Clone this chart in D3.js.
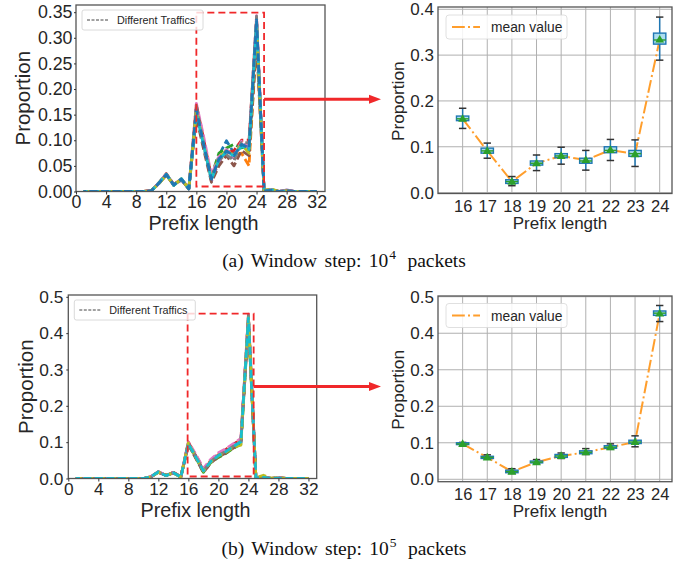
<!DOCTYPE html>
<html>
<head>
<meta charset="utf-8">
<script src="https://cdn.jsdelivr.net/npm/d3@7"></script>
<style>
body { margin: 0; background: #fff; }
svg { display: block; }
</style>
</head>
<body>
<svg id="fig"></svg>
<script>
// ---- data ----
let prefixLengths = [1,2,3,4,5,6,7,8,9,10,11,12,13,14,15,16,17,18,19,20,21,22,23,24,25,26,27,28,29,30,31,32];
let boxPrefixes = [16,17,18,19,20,21,22,23,24];

// (a) window step 1e4 : proportion per prefix length, one array per traffic trace
let trafficA0 = [0,0,0,0,0,0,0,0,0,0.001,0.016,0.034,0.013,0.024,0.006,0.155,0.088,0.022,0.070,0.099,0.075,0.090,0.080,0.330,0.001,0.002,0,0.001,0,0,0,0];
let trafficA1 = [0,0,0,0,0,0,0,0,0,0.002,0.015,0.032,0.014,0.023,0.005,0.165,0.095,0.026,0.060,0.080,0.072,0.075,0.050,0.300,0.002,0.004,0,0.001,0,0,0,0];
let trafficA2 = [0,0,0,0,0,0,0,0,0,0.001,0.017,0.033,0.012,0.025,0.006,0.150,0.085,0.030,0.075,0.085,0.092,0.085,0.090,0.320,0.001,0.003,0,0.001,0,0,0,0];
let trafficA3 = [0,0,0,0,0,0,0,0,0,0.001,0.016,0.035,0.014,0.024,0.005,0.170,0.100,0.028,0.065,0.075,0.080,0.100,0.100,0.338,0.001,0.003,0,0.002,0,0,0,0];
let trafficA4 = [0,0,0,0,0,0,0,0,0,0.001,0.015,0.033,0.013,0.022,0.006,0.160,0.092,0.020,0.058,0.078,0.065,0.095,0.085,0.330,0.002,0.004,0,0.003,0,0,0,0];
let trafficA5 = [0,0,0,0,0,0,0,0,0,0.002,0.016,0.032,0.012,0.024,0.005,0.145,0.080,0.018,0.050,0.070,0.050,0.080,0.070,0.290,0.001,0.003,0,0.001,0,0,0,0];
let trafficA6 = [0,0,0,0,0,0,0,0,0,0.001,0.017,0.034,0.013,0.025,0.006,0.172,0.105,0.032,0.068,0.082,0.068,0.098,0.092,0.343,0.001,0.003,0,0.002,0,0,0,0];
let trafficA7 = [0,0,0,0,0,0,0,0,0,0.001,0.016,0.033,0.014,0.023,0.005,0.168,0.090,0.025,0.062,0.072,0.060,0.096,0.095,0.342,0.001,0.002,0,0.001,0,0,0,0];
let trafficA8 = [0,0,0,0,0,0,0,0,0,0.001,0.015,0.032,0.013,0.024,0.006,0.158,0.090,0.024,0.066,0.080,0.070,0.092,0.075,0.325,0.002,0.005,0,0.001,0,0,0,0];
let trafficA9 = [0,0,0,0,0,0,0,0,0,0.001,0.016,0.034,0.012,0.025,0.005,0.152,0.088,0.023,0.063,0.077,0.070,0.088,0.082,0.330,0.001,0.003,0,0.001,0,0,0,0];
let trafficA10 = [0,0,0,0,0,0,0,0,0,0.001,0.016,0.033,0.013,0.024,0.005,0.160,0.090,0.024,0.064,0.079,0.070,0.092,0.085,0.335,0.001,0.002,0,0.001,0,0,0,0];

// (b) window step 1e5
let trafficB0 = [0,0,0,0,0,0,0,0,0,0,0.004,0.018,0.008,0.016,0.004,0.095,0.060,0.020,0.047,0.063,0.073,0.087,0.100,0.440,0.001,0.003,0,0.002,0,0,0,0];
let trafficB1 = [0,0,0,0,0,0,0,0,0,0,0.005,0.017,0.009,0.015,0.005,0.099,0.064,0.026,0.050,0.066,0.076,0.090,0.105,0.435,0.002,0.004,0,0.002,0,0,0,0];
let trafficB2 = [0,0,0,0,0,0,0,0,0,0,0.004,0.019,0.008,0.016,0.004,0.094,0.057,0.017,0.044,0.058,0.069,0.083,0.095,0.430,0.001,0.003,0,0.001,0,0,0,0];
let trafficB3 = [0,0,0,0,0,0,0,0,0,0,0.004,0.018,0.009,0.017,0.005,0.100,0.062,0.022,0.049,0.065,0.080,0.094,0.108,0.448,0.001,0.003,0,0.002,0,0,0,0];
let trafficB4 = [0,0,0,0,0,0,0,0,0,0,0.005,0.018,0.008,0.015,0.004,0.097,0.059,0.019,0.048,0.068,0.078,0.092,0.104,0.445,0.002,0.005,0,0.003,0,0,0,0];
let trafficB5 = [0,0,0,0,0,0,0,0,0,0,0.004,0.017,0.008,0.016,0.005,0.093,0.055,0.016,0.043,0.060,0.070,0.084,0.098,0.432,0.001,0.003,0,0.001,0,0,0,0];
let trafficB6 = [0,0,0,0,0,0,0,0,0,0,0.005,0.019,0.009,0.016,0.004,0.101,0.066,0.028,0.053,0.071,0.082,0.096,0.110,0.452,0.001,0.004,0,0.002,0,0,0,0];
let trafficB7 = [0,0,0,0,0,0,0,0,0,0,0.004,0.018,0.008,0.016,0.005,0.096,0.061,0.021,0.047,0.064,0.075,0.089,0.102,0.450,0.001,0.003,0,0.001,0,0,0,0];
let trafficB8 = [0,0,0,0,0,0,0,0,0,0,0.004,0.017,0.009,0.015,0.004,0.098,0.058,0.020,0.046,0.062,0.072,0.086,0.092,0.446,0.002,0.009,0.001,0.002,0,0,0,0];
let trafficB9 = [0,0,0,0,0,0,0,0,0,0,0.005,0.018,0.008,0.016,0.004,0.096,0.059,0.021,0.047,0.063,0.074,0.088,0.101,0.442,0.001,0.003,0,0.001,0,0,0,0];

// box plot statistics, prefix 16..24
let meanA = [0.161, 0.091, 0.024, 0.064, 0.080, 0.071, 0.093, 0.084, 0.334];
let medA  = [0.161, 0.091, 0.024, 0.064, 0.080, 0.069, 0.092, 0.085, 0.333];
let q1A   = [0.157, 0.086, 0.020, 0.060, 0.076, 0.064, 0.087, 0.079, 0.324];
let q3A   = [0.167, 0.097, 0.028, 0.069, 0.085, 0.075, 0.100, 0.092, 0.348];
let loA   = [0.140, 0.075, 0.015, 0.048, 0.062, 0.049, 0.070, 0.057, 0.289];
let hiA   = [0.184, 0.108, 0.035, 0.082, 0.099, 0.092, 0.116, 0.115, 0.383];

let meanB = [0.097, 0.060, 0.021, 0.047, 0.064, 0.074, 0.088, 0.102, 0.454];
let medB  = [0.097, 0.060, 0.021, 0.047, 0.064, 0.074, 0.088, 0.102, 0.455];
let q1B   = [0.095, 0.057, 0.018, 0.045, 0.060, 0.070, 0.085, 0.098, 0.449];
let q3B   = [0.100, 0.063, 0.025, 0.050, 0.068, 0.078, 0.092, 0.107, 0.461];
let loB   = [0.093, 0.055, 0.016, 0.043, 0.057, 0.068, 0.082, 0.089, 0.432];
let hiB   = [0.101, 0.067, 0.029, 0.054, 0.072, 0.084, 0.097, 0.119, 0.476];

// tick labels
let trafficXTicks = [0, 4, 8, 12, 16, 20, 24, 28, 32];
let yTicksA = [0, 0.05, 0.10, 0.15, 0.20, 0.25, 0.30, 0.35];
let yTicksB = [0, 0.1, 0.2, 0.3, 0.4, 0.5];
let boxYTicksA = [0, 0.1, 0.2, 0.3, 0.4];
let boxYTicksB = [0, 0.1, 0.2, 0.3, 0.4, 0.5];

let tab10 = ["#1f77b4","#ff7f0e","#2ca02c","#d62728","#9467bd","#8c564b","#e377c2","#7f7f7f","#bcbd22","#17becf"];

// ---- drawing ----
let W = 691, H = 568;
let SANS = "'Liberation Sans', Arial, sans-serif";
let SERIF = "'Liberation Serif', 'Times New Roman', serif";
let RED = "#f0282a";

let svg = d3.select("#fig").attr("width", W).attr("height", H);
let defs = svg.append("defs");
let clipCount = 0;

function styleAxis(g, size) {
	g.select(".domain").remove();
	g.selectAll("text").attr("font-size", size).attr("font-family", SANS).attr("fill", "#262626");
	g.selectAll(".tick line").attr("stroke", "#333").attr("stroke-width", 1);
}

function spines(g, c) {
	g.append("rect")
		.attr("x", c.left).attr("y", c.top)
		.attr("width", c.right - c.left).attr("height", c.bottom - c.top)
		.attr("fill", "none").attr("stroke", "#555").attr("stroke-width", 1.3);
}

function addClip(c) {
	let id = "clip" + (clipCount++);
	defs.append("clipPath").attr("id", id)
		.append("rect")
		.attr("x", c.left).attr("y", c.top)
		.attr("width", c.right - c.left).attr("height", c.bottom - c.top);
	return "url(#" + id + ")";
}

function drawTraffic(c) {
	let g = svg.append("g");
	let x = d3.scaleLinear().domain(c.xDomain).range([c.left, c.right]);
	let y = d3.scaleLinear().domain(c.yDomain).range([c.bottom, c.top]);

	let line = d3.line()
		.x((d, i) => x(prefixLengths[i]))
		.y(d => y(d));

	g.append("g").attr("clip-path", addClip(c))
		.selectAll("path")
		.data(c.series)
		.enter()
		.append("path")
			.attr("d", line)
			.attr("fill", "none")
			.attr("stroke", (d, i) => tab10[i % 10])
			.attr("stroke-width", 2.8)
			.attr("stroke-dasharray", "8,3.5")
			.attr("stroke-dashoffset", (d, i) => i * 1.7)
			.attr("stroke-linejoin", "round");

	// highlighted region
	g.append("rect")
		.attr("x", x(c.zoomBox[0])).attr("y", y(c.zoomBox[3]))
		.attr("width", x(c.zoomBox[1]) - x(c.zoomBox[0]))
		.attr("height", y(c.zoomBox[2]) - y(c.zoomBox[3]))
		.attr("fill", "none")
		.attr("stroke", RED)
		.attr("stroke-width", 1.8)
		.attr("stroke-dasharray", "7,4");

	spines(g, c);

	g.append("g")
		.attr("transform", `translate(0, ${c.bottom})`)
		.call(d3.axisBottom(x).tickValues(trafficXTicks).tickSize(3).tickPadding(1).tickFormat(d3.format("d")))
		.call(a => styleAxis(a, c.tickSize));

	g.append("g")
		.attr("transform", `translate(${c.left}, 0)`)
		.call(d3.axisLeft(y).tickValues(c.yTicks).tickSize(2).tickPadding(c.yPad).tickFormat(d3.format(c.yFormat)))
		.call(a => styleAxis(a, c.tickSize));

	// legend
	let lg = g.append("g").attr("transform", `translate(${c.left + 6}, ${c.top + 5})`);
	lg.append("rect")
		.attr("width", 121).attr("height", 20).attr("rx", 2)
		.attr("fill", "#fff").attr("fill-opacity", 0.8)
		.attr("stroke", "#d0d0d0").attr("stroke-width", 0.8);
	lg.append("line")
		.attr("x1", 5).attr("x2", 26).attr("y1", 10).attr("y2", 10)
		.attr("stroke", "#444").attr("stroke-width", 1)
		.attr("stroke-dasharray", "3,1.5");
	lg.append("text")
		.text("Different Traffics")
		.attr("x", 35).attr("y", 14)
		.attr("font-family", SANS).attr("font-size", 10.8).attr("fill", "#262626");

	// axis labels
	g.append("text")
		.text("Prefix length")
		.attr("x", (c.left + c.right) / 2 + 3)
		.attr("y", c.xLabelY)
		.attr("text-anchor", "middle")
		.attr("font-family", SANS).attr("font-size", 19.8).attr("fill", "#262626");
	g.append("text")
		.text("Proportion")
		.attr("transform", `translate(${c.yLabelX}, ${(c.top + c.bottom) / 2}) rotate(-90)`)
		.attr("text-anchor", "middle")
		.attr("font-family", SANS).attr("font-size", 20.5).attr("fill", "#262626");

	// arrow to the zoomed panel
	let ay = y(c.arrowAt);
	let ax0 = x(c.zoomBox[1]);
	g.append("line")
		.attr("x1", ax0).attr("x2", c.arrowTip - 9)
		.attr("y1", ay).attr("y2", ay)
		.attr("stroke", RED).attr("stroke-width", 3);
	g.append("path")
		.attr("d", `M${c.arrowTip},${ay} L${c.arrowTip - 12},${ay - 4.5} L${c.arrowTip - 12},${ay + 4.5} Z`)
		.attr("fill", RED);
}

function drawBoxes(c) {
	let g = svg.append("g");
	let x = d3.scaleLinear().domain([15, 24.5]).range([c.left, c.right]);
	let y = d3.scaleLinear().domain(c.yDomain).range([c.bottom, c.top]);

	// grid
	g.append("g").selectAll("line.v").data(boxPrefixes).enter().append("line")
		.attr("x1", d => x(d)).attr("x2", d => x(d))
		.attr("y1", c.top).attr("y2", c.bottom)
		.attr("stroke", "#b0b0b0").attr("stroke-width", 1);
	g.append("g").selectAll("line.h").data(c.yTicks).enter().append("line")
		.attr("x1", c.left).attr("x2", c.right)
		.attr("y1", d => y(d)).attr("y2", d => y(d))
		.attr("stroke", "#b0b0b0").attr("stroke-width", 1);

	// mean line
	let meanLine = d3.line().x((d, i) => x(boxPrefixes[i])).y(d => y(d));
	g.append("path")
		.attr("d", meanLine(c.mean))
		.attr("fill", "none")
		.attr("stroke", "#ff9e2c")
		.attr("stroke-width", 2)
		.attr("stroke-dasharray", "12.8,3.2,2,3.2");

	let bw = 0.5, cw = 0.3;
	let boxes = g.append("g").selectAll("g").data(boxPrefixes).enter().append("g");
	// whiskers
	boxes.append("line")
		.attr("x1", d => x(d)).attr("x2", d => x(d))
		.attr("y1", (d, i) => y(c.lo[i])).attr("y2", (d, i) => y(c.hi[i]))
		.attr("stroke", "#1f77b4").attr("stroke-width", 1.5);
	// caps
	[c.lo, c.hi].forEach(arr => {
		boxes.append("line")
			.attr("x1", d => x(d - cw / 2)).attr("x2", d => x(d + cw / 2))
			.attr("y1", (d, i) => y(arr[i])).attr("y2", (d, i) => y(arr[i]))
			.attr("stroke", "#333").attr("stroke-width", 1.5);
	});
	// boxes
	boxes.append("rect")
		.attr("x", d => x(d - bw / 2))
		.attr("width", x(bw) - x(0))
		.attr("y", (d, i) => y(c.q3[i]))
		.attr("height", (d, i) => Math.max(1.5, y(c.q1[i]) - y(c.q3[i])))
		.attr("fill", "#9fd8ec").attr("fill-opacity", 0.85)
		.attr("stroke", "#1f77b4").attr("stroke-width", 1.4);
	// medians
	boxes.append("line")
		.attr("x1", d => x(d - bw / 2)).attr("x2", d => x(d + bw / 2))
		.attr("y1", (d, i) => y(c.med[i])).attr("y2", (d, i) => y(c.med[i]))
		.attr("stroke", "#2ca02c").attr("stroke-width", 1.4);
	// means
	boxes.append("path")
		.attr("d", d3.symbol(d3.symbolTriangle, 34))
		.attr("transform", (d, i) => `translate(${x(d)}, ${y(c.mean[i]) + 0.5})`)
		.attr("fill", "#2ca02c");

	spines(g, c);

	g.append("g")
		.attr("transform", `translate(0, ${c.bottom})`)
		.call(d3.axisBottom(x).tickValues(boxPrefixes).tickSize(0).tickPadding(6.5).tickFormat(d3.format("d")))
		.call(a => styleAxis(a, 16.5));
	g.append("g")
		.attr("transform", `translate(${c.left}, 0)`)
		.call(d3.axisLeft(y).tickValues(c.yTicks).tickSize(0).tickPadding(4).tickFormat(d3.format(".1f")))
		.call(a => styleAxis(a, 17));

	// legend
	let lg = g.append("g").attr("transform", `translate(${c.left + 8}, ${c.top + c.legendDy})`);
	lg.append("rect")
		.attr("width", 121).attr("height", 24).attr("rx", 3)
		.attr("fill", "#fff").attr("fill-opacity", 0.85)
		.attr("stroke", "#d8d8d8").attr("stroke-width", 0.8);
	lg.append("line")
		.attr("x1", 6).attr("x2", 34).attr("y1", 12).attr("y2", 12)
		.attr("stroke", "#ff9e2c").attr("stroke-width", 2)
		.attr("stroke-dasharray", "12.8,3.2,2,3.2");
	lg.append("text")
		.text("mean value")
		.attr("x", 45).attr("y", 17)
		.attr("font-family", SANS).attr("font-size", 13.8).attr("fill", "#262626");

	g.append("text")
		.text("Prefix length")
		.attr("x", (c.left + c.right) / 2 + 5)
		.attr("y", c.xLabelY)
		.attr("text-anchor", "middle")
		.attr("font-family", SANS).attr("font-size", 17).attr("fill", "#262626");
	g.append("text")
		.text("Proportion")
		.attr("transform", `translate(${c.yLabelX}, ${(c.top + c.bottom) / 2 + 1}) rotate(-90)`)
		.attr("text-anchor", "middle")
		.attr("font-family", SANS).attr("font-size", 17.3).attr("fill", "#262626");
}

function caption(label, exp, cy) {
	let t = svg.append("text")
		.attr("x", 344).attr("y", cy)
		.attr("text-anchor", "middle")
		.attr("font-family", SERIF).attr("font-size", 19.5).attr("fill", "#111")
		.attr("word-spacing", 2.5);
	t.append("tspan").text(label + " Window step: 10");
	t.append("tspan").text(exp).attr("dy", -8).attr("dx", 1).attr("font-size", 13.5);
	t.append("tspan").text(" packets").attr("dy", 8).attr("dx", 4);
}

drawTraffic({
	left: 76, right: 325, top: 5, bottom: 191.5,
	xDomain: [0, 33.1], yDomain: [0, 0.364],
	yTicks: yTicksA, yFormat: ".2f", yPad: 1.5, tickSize: 17.8,
	series: [trafficA0, trafficA1, trafficA2, trafficA3, trafficA4, trafficA5, trafficA6, trafficA7, trafficA8, trafficA9, trafficA10],
	zoomBox: [16, 25, 0.0098, 0.349],
	arrowAt: 0.18, arrowTip: 381,
	xLabelY: 229.5, yLabelX: 30
});

drawTraffic({
	left: 68.3, right: 316.7, top: 295, bottom: 478.5,
	xDomain: [0, 33.1], yDomain: [0, 0.505],
	yTicks: yTicksB, yFormat: ".1f", yPad: 3, tickSize: 17.3,
	series: [trafficB0, trafficB1, trafficB2, trafficB3, trafficB4, trafficB5, trafficB6, trafficB7, trafficB8, trafficB9],
	zoomBox: [15.9, 24.7, 0.0055, 0.454],
	arrowAt: 0.253, arrowTip: 381,
	xLabelY: 516.5, yLabelX: 33
});

drawBoxes({
	left: 438, right: 672, top: 7, bottom: 193.5,
	yDomain: [-0.002, 0.405], yTicks: boxYTicksA,
	mean: meanA, med: medA, q1: q1A, q3: q3A, lo: loA, hi: hiA,
	legendDy: 8, xLabelY: 229, yLabelX: 404
});

drawBoxes({
	left: 438, right: 672, top: 296, bottom: 481.7,
	yDomain: [-0.0066, 0.502], yTicks: boxYTicksB,
	mean: meanB, med: medB, q1: q1B, q3: q3B, lo: loB, hi: hiB,
	legendDy: 7.5, xLabelY: 517, yLabelX: 404
});

caption("(a)", "4", 267);
caption("(b)", "5", 555);
</script>
</body>
</html>
